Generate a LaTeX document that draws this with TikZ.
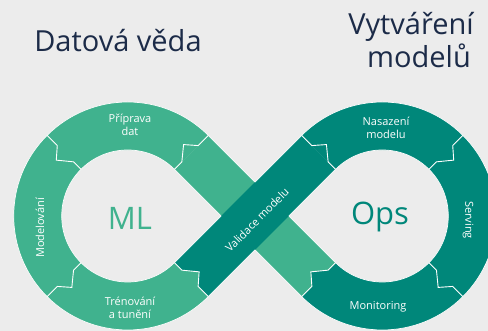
\documentclass[tikz,border=0pt]{standalone}
\usepackage{fontspec}
\setmainfont{Open Sans}
\usetikzlibrary{calc}
\definecolor{lg}{HTML}{40B28E}
\definecolor{dk}{HTML}{00877A}
\definecolor{bg}{HTML}{ECECEC}
\definecolor{ttl}{HTML}{1C2B48}
\newcommand{\toothline}[3]{%
  \draw[seam] ($(#1)+(#2:114pt)$) -- ($(#1)+(#2:99.6pt)$) -- ($(#1)+(#2:90pt)+(#2#3:11pt)$) -- ($(#1)+(#2:76.6pt)$) -- ($(#1)+(#2:66pt)$);}
\newcommand{\toothfill}[4]{%
  \fill[#4] ($(#1)+(#2:99.6pt)$) -- ($(#1)+(#2:90pt)+(#2#3:11pt)$) -- ($(#1)+(#2:76.6pt)$) -- ($(#1)+(#2:76.6pt)+(#2#3:-2pt)$) -- ($(#1)+(#2:99.6pt)+(#2#3:-2pt)$) -- cycle;}
\begin{document}
\begin{tikzpicture}[x=1pt,y=1pt,
  rim/.style={draw=white!85!bg,line width=0.7pt},
  seam/.style={draw=white,line width=0.9pt,line join=miter},
  lbl/.style={text=white,font=\fontsize{11}{13.5}\selectfont,align=center,inner sep=0pt},
  big/.style={font=\fontsize{31}{34}\selectfont,inner sep=0pt},
  ttlstyle/.style={text=ttl,font=\fontsize{29}{33}\selectfont,inner sep=0pt}]
\fill[bg] (0,0) rectangle (488,331);
\useasboundingbox (0,0) rectangle (488,331);
\coordinate (CL) at (127.7,115);
\coordinate (CR) at (382.3,115);
\coordinate (P) at (255,115);
% arc regions
\fill[lg] ($(CL)+(45:114pt)$) arc[start angle=45,end angle=315,radius=114pt] -- ($(CL)+(315:66pt)$) arc[start angle=315,end angle=45,radius=66pt] -- cycle;
\fill[dk] ($(CR)+(135:114pt)$) arc[start angle=135,end angle=-135,radius=114pt] -- ($(CR)+(-135:66pt)$) arc[start angle=-135,end angle=135,radius=66pt] -- cycle;
% light strip (under)
\fill[lg] ($(CL)+(45:114pt)$) -- ($(CR)+(225:66pt)$) -- ($(CR)+(225:114pt)$) -- ($(CL)+(45:66pt)$) -- cycle;
\draw[rim] ($(CL)+(45:114pt)$) -- ($(CR)+(225:66pt)$);
\draw[rim] ($(CL)+(45:66pt)$) -- ($(CR)+(225:114pt)$);
% dark strip (over)
\fill[dk] ($(CL)+(-45:114pt)$) -- ($(CR)+(135:66pt)$) -- ($(CR)+(135:114pt)$) -- ($(CL)+(-45:66pt)$) -- cycle;
\draw[rim] ($(P)+(-45:24pt)+(225:90pt)$) -- ($(P)+(-45:24pt)+(225:24pt)$);
\draw[rim] ($(P)+(-45:24pt)+(45:24pt)$) -- ($(P)+(-45:24pt)+(45:90pt)$);
\draw[rim] ($(P)+(135:24pt)+(225:90pt)$) -- ($(P)+(135:24pt)+(225:24pt)$);
\draw[rim] ($(P)+(135:24pt)+(45:24pt)$) -- ($(P)+(135:24pt)+(45:90pt)$);
% rims on arcs
\draw[rim] ($(CL)+(45:114pt)$) arc[start angle=45,end angle=315,radius=114pt];
\draw[rim] ($(CL)+(45:66pt)$) arc[start angle=45,end angle=315,radius=66pt];
\draw[rim] ($(CR)+(135:114pt)$) arc[start angle=135,end angle=-135,radius=114pt];
\draw[rim] ($(CR)+(135:66pt)$) arc[start angle=135,end angle=-135,radius=66pt];
% teeth
\toothfill{CL}{-45}{+90}{lg}
\toothfill{CR}{-135}{-90}{dk}
\toothline{CL}{135}{+90}
\toothline{CL}{225}{+90}
\toothline{CL}{-45}{+90}
\toothline{CL}{45}{+90}
\toothline{CR}{135}{-90}
\toothline{CR}{45}{-90}
\toothline{CR}{-45}{-90}
\toothline{CR}{-135}{-90}
% labels
\node[lbl] (pri) at (130,206) {Příprava\\dat};
\node[lbl,rotate=90] (mod) at (40,103) {Modelování};
\node[lbl] (tre) at (130,23) {Trénování\\a tunění};
\node[lbl,rotate=45] (val) at (257,111) {Validace modelu};
\node[lbl] (nas) at (386,203) {Nasazení\\modelu};
\node[lbl,rotate=-90] (ser) at (468,111) {Serving};
\node[lbl] (mon) at (378,24) {Monitoring};
\node[big,text=lg] (ml) at (130,113) {ML};
\node[big,text=dk] (ops) at (380,114) {Ops};
\node[ttlstyle,anchor=base] (t1) at (118,279) {Datová věda};
\node[ttlstyle,anchor=base] (t2) at (411,296) {Vytváření};
\node[ttlstyle,anchor=base] (t3) at (419,263) {modelů};
\end{tikzpicture}
\end{document}
